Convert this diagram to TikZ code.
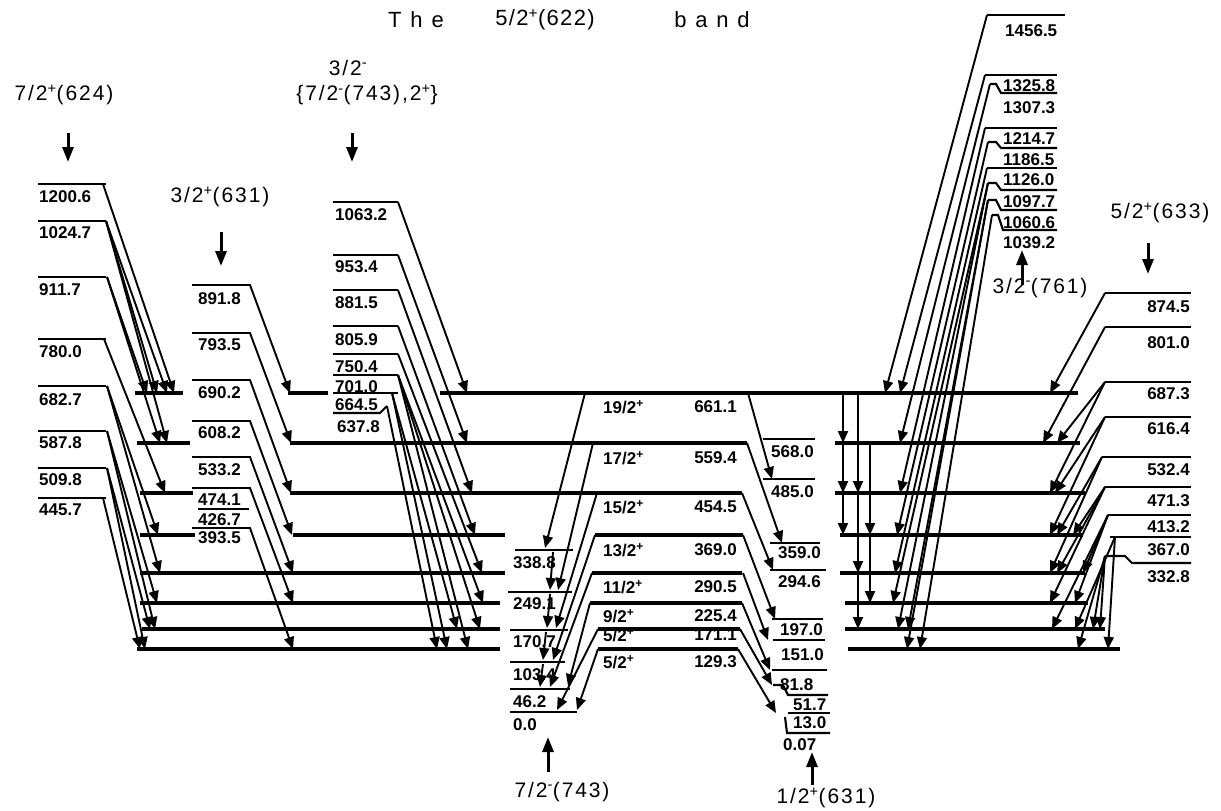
\documentclass[tikz,border=0pt]{standalone}
\usepackage{fontspec}
\setmainfont{Liberation Sans}
\newfontfamily\numf{Liberation Sans}
\newfontfamily\wide[LetterSpace=9]{Liberation Sans}
\newfontfamily\widest[LetterSpace=40]{Liberation Sans}
\newfontfamily\titf[LetterSpace=6]{Liberation Sans}
\usetikzlibrary{arrows.meta}
\newcommand{\sgnp}{\textsuperscript{+}}
\newcommand{\sgnm}{\textsuperscript{-}}
\begin{document}
\begin{tikzpicture}[x=1pt,y=-1pt,
  band/.style={line width=4.4pt},
  lvl/.style={line width=2.1pt},
  tr/.style={line width=1.9pt,-{Triangle[length=12pt,width=10pt]}},
  bandarrow/.style={line width=3pt,-{Triangle[length=15pt,width=11pt]}},
  lab/.style={font=\numf\bfseries\fontsize{17}{19}\selectfont,inner sep=0pt},
  blab/.style={font=\wide\fontsize{21}{24}\selectfont,inner sep=0pt}]
\useasboundingbox (0,0) rectangle (1221,811);

% ---------- title and band names ----------
\node[inner sep=0pt,font=\widest\fontsize{22}{26}\selectfont] (tA) at (416,20) {The};
\node[inner sep=0pt,font=\titf\fontsize{22}{26}\selectfont] (tB) at (545,20) {5/2\sgnp(622)};
\node[inner sep=0pt,font=\widest\fontsize{22}{26}\selectfont] (tC) at (712,20) {band};

\node[blab] (b624) at (64,95) {7/2\sgnp(624)};
\node[blab] (b631t) at (220,197) {3/2\sgnp(631)};
\node[blab] (b32) at (348,68) {3/2\sgnm};
\node[blab] (b743m) at (367,95) {\{7/2\sgnm(743),2\sgnp\}};
\node[blab] (b761) at (1040,288) {3/2\sgnm(761)};
\node[blab] (b633) at (1160,213) {5/2\sgnp(633)};
\node[blab] (b743) at (562,792) {7/2\sgnm(743)};
\node[blab] (b631) at (826,798) {1/2\sgnp(631)};

\coordinate (f1a) at (68,133); \coordinate (f1b) at (68,162);
\coordinate (f2a) at (221,232); \coordinate (f2b) at (221,266);
\coordinate (f3a) at (352,133); \coordinate (f3b) at (352,162);
\coordinate (f4a) at (1148,243); \coordinate (f4b) at (1148,274);
\coordinate (f5a) at (1022,285); \coordinate (f5b) at (1022,250);
\coordinate (f6a) at (548,772); \coordinate (f6b) at (548,737);
\coordinate (f7a) at (812,785); \coordinate (f7b) at (812,752);
\foreach \i in {1,...,7} \draw[bandarrow] (f\i a) -- (f\i b);

% ---------- 5/2+(622) band lines ----------
\foreach \a/\b/\y in {135/183/393, 288/328/393, 440/1078/393,
  137/190/443, 290/747/443, 835/1080/443,
  140/193/493, 290/742/493, 835/1085/493,
  140/195/535, 293/505/535, 595/743/535, 840/1083/535,
  140/505/573, 592/742/573, 840/1085/573,
  140/500/603, 590/742/603, 845/1088/603,
  142/500/629, 598/740/629, 845/1105/629,
  137/500/649, 598/738/649, 848/1120/649}
  \draw[band] (\a,\y) -- (\b,\y);

% band labels in the centre
\foreach \s/\e/\y [count=\i] in {{19/2}/661.1/407, {17/2}/559.4/458, {15/2}/454.5/507,
  {13/2}/369.0/550, {11/2}/290.5/587, {9/2}/225.4/616, {5/2}/171.1/635, {5/2}/129.3/662}
{ \node[lab,anchor=west] (bs\i) at (603,\y) {\s\sgnp};
  \node[lab,anchor=east] (be\i) at (737,\y) {\e}; }

% ---------- 7/2+(624) band (far left) ----------
\foreach \t/\yl/\yt [count=\i] in {1200.6/184/197, 1024.7/221/233, 911.7/277/290,
  780.0/339/352, 682.7/386/400, 587.8/431/443, 509.8/468/480, 445.7/498/510}
{ \draw[lvl] (38,\yl) -- (106,\yl);
  \node[lab,anchor=west] (a\i) at (39,\yt) {\t}; }
\foreach \xa/\ya/\xb/\yb in {103/184/174/393, 106/221/167/393, 106/221/157/393,
  106/221/167/443, 107/277/147/393, 107/277/160/443, 104/339/165/493,
  107/386/158/535, 107/386/160/573, 107/431/157/603, 107/431/155/629,
  107/468/150/629, 107/468/145/649, 103/498/140/649}
  \draw[tr] (\xa,\ya) -- (\xb,\yb);

% ---------- 3/2+(631) band ----------
\foreach \t/\yl/\yt/\xb/\yb [count=\i] in {891.8/285/299/290/393, 793.5/333/345/291/443,
  690.2/380/393/291/493, 608.2/421/433/292/535, 533.2/457/470/293/573,
  474.1/488/500/293/603, 393.5/528/538/293/649}
{ \draw[tr] (192,\yl) -- (250,\yl) -- (\xb,\yb);
  \node[lab,anchor=west] (c\i) at (198,\yt) {\t}; }
\draw[lvl] (198,509) -- (249,509);
\node[lab,anchor=west] (c8) at (198,520) {426.7};

% ---------- 3/2- {7/2-(743),2+} band ----------
\foreach \t/\yl/\yt [count=\i] in {1063.2/202/215, 953.4/255/267, 881.5/290/303,
  805.9/326/340, 750.4/354/367, 701.0/375/387, 664.5/393/405}
{ \draw[lvl] (333,\yl) -- (398,\yl);
  \node[lab,anchor=west] (d\i) at (335,\yt) {\t}; }
\draw[lvl] (333,413) -- (380,413) -- (387,406);
\node[lab,anchor=west] (d8) at (337,427) {637.8};
\foreach \xa/\ya/\xb/\yb in {398/202/467/393, 398/255/467/443, 398/290/472/493,
  398/326/475/535, 398/354/482/573, 398/375/483/603, 398/375/480/629,
  398/375/468/649, 392/393/457/629, 392/393/447/649, 387/406/437/649}
  \draw[tr] (\xa,\ya) -- (\xb,\yb);

% ---------- 7/2-(743) band ----------
\foreach \t/\xa/\xb/\yl/\yt [count=\i] in {338.8/515/573/550/563, 249.1/508/572/592/604,
  170.7/510/568/630/642, 103.4/510/565/662/675, 46.2/510/570/689/702, 0.0/510/577/712/725}
{ \draw[lvl] (\xa,\yl) -- (\xb,\yl);
  \node[lab,anchor=west] (e\i) at (513,\yt) {\t}; }
\foreach \xa/\ya/\xb/\yb in {553/552/550/590, 550/594/547/628, 546/632/543/660,
  543/664/540/687}
  \draw[tr] (\xa,\ya) -- (\xb,\yb);
% from the band, to the left
\foreach \xa/\ya/\xb/\yb in {585/393/545/548, 593/443/558/590, 597/493/556/628,
  595/535/553/660, 592/573/550/687, 590/603/568/686, 598/629/557/710, 598/649/577/710}
  \draw[tr] (\xa,\ya) -- (\xb,\yb);

% ---------- 1/2+(631) band ----------
\foreach \t/\xa/\xb/\yl/\yt [count=\i] in {568.0/763/815/439/452, 485.0/763/815/479/492,
  359.0/770/820/543/553, 294.6/770/826/570/582, 197.0/772/823/619/630,
  151.0/773/825/640/655, 81.8/772/827/670/685}
{ \draw[lvl] (\xa,\yl) -- (\xb,\yl);
  \node[lab,anchor=west] (g\i) at (\xa+8,\yt) {\t}; }
\draw[lvl] (773,685) -- (783,685) -- (788,695) -- (828,695);
\node[lab,anchor=west] (g8) at (793,705) {51.7};
\draw[lvl] (788,713) -- (830,713);
\node[lab,anchor=west] (g9) at (793,723) {13.0};
\draw[lvl] (785,717) -- (787,733) -- (830,733);
\node[lab,anchor=west] (g10) at (783,745) {0.07};
\foreach \xa/\ya/\xb/\yb in {748/393/772/479, 747/443/782/543, 742/493/773/570,
  743/535/775/619, 743/573/768/640, 742/603/770/670, 740/629/772/685, 738/649/776/713}
  \draw[tr] (\xa,\ya) -- (\xb,\yb);

% ---------- in-band transitions (right) ----------
\foreach \x/\ya/\yb in {843/393/443, 843/443/493, 843/493/535,
  858/393/493, 858/493/573, 858/573/629, 870/443/535, 870/535/603}
  \draw[tr] (\x,\ya) -- (\x,\yb);

% ---------- 3/2-(761) band ----------
\draw[lvl] (987,15) -- (1065,15);
\node[lab,anchor=west] (h1) at (1005,31) {1456.5};
\draw[lvl] (985,75) -- (1057,75);
\node[lab,anchor=west] (h2) at (1003,86) {1325.8};
\draw[lvl] (990,84) -- (996,84) -- (1001,93) -- (1057,93);
\node[lab,anchor=west] (h3) at (1003,108) {1307.3};
\draw[lvl] (985,128) -- (1057,128);
\node[lab,anchor=west] (h4) at (1003,139) {1214.7};
\draw[lvl] (988,142) -- (996,142) -- (1001,148) -- (1057,148);
\node[lab,anchor=west] (h5) at (1003,160) {1186.5};
\draw[lvl] (987,168) -- (1057,168);
\node[lab,anchor=west] (h6) at (1003,180) {1126.0};
\draw[lvl] (988,183) -- (996,183) -- (1001,190) -- (1057,190);
\node[lab,anchor=west] (h7) at (1003,202) {1097.7};
\draw[lvl] (988,200) -- (996,200) -- (1001,210) -- (1057,210);
\node[lab,anchor=west] (h8) at (1003,223) {1060.6};
\draw[lvl] (992,215) -- (998,215) -- (1003,230) -- (1057,230);
\node[lab,anchor=west] (h9) at (1003,243) {1039.2};
\foreach \xa/\ya/\xb/\yb in {987/15/885/393, 985/75/900/393, 990/84/900/443,
  985/128/900/493, 988/142/897/535, 987/168/895/573, 988/183/893/603,
  988/183/898/629, 988/200/908/629, 988/200/907/649, 992/215/920/649}
  \draw[tr] (\xa,\ya) -- (\xb,\yb);

% ---------- 5/2+(633) band ----------
\foreach \t/\xa/\yl/\yt [count=\i] in {874.5/1105/293/307, 801.0/1105/327/343,
  687.3/1105/382/394, 616.4/1105/417/429, 532.4/1102/457/470, 471.3/1105/487/501,
  413.2/1108/515/527, 367.0/1110/537/550}
{ \draw[lvl] (\xa,\yl) -- (1191,\yl);
  \node[lab,anchor=east] (k\i) at (1190,\yt) {\t}; }
\draw[lvl] (1105,556) -- (1125,556) -- (1132,563) -- (1191,563);
\node[lab,anchor=east] (k9) at (1190,577) {332.8};
\foreach \xa/\ya/\xb/\yb in {1105/293/1050/393, 1105/327/1043/443,
  1105/382/1057/443, 1105/382/1050/493, 1105/417/1055/493, 1105/417/1050/535,
  1102/457/1057/535, 1102/457/1050/573, 1105/487/1073/535, 1105/487/1057/573,
  1105/487/1050/603, 1108/515/1083/573, 1108/515/1075/603, 1108/515/1052/629,
  1115/537/1075/629, 1115/537/1108/649, 1105/556/1093/629, 1105/556/1100/629,
  1105/556/1078/649}
  \draw[tr] (\xa,\ya) -- (\xb,\yb);
\end{tikzpicture}
\end{document}
